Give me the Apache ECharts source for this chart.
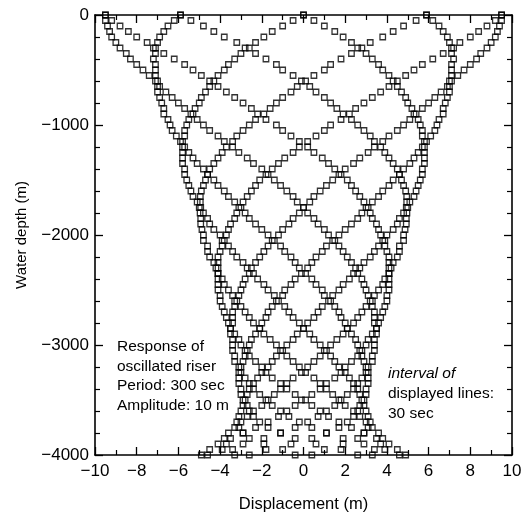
<!DOCTYPE html>
<html><head><meta charset="utf-8">
<script src="https://cdn.jsdelivr.net/npm/echarts@6/dist/echarts.min.js"></script>
<style>html,body{margin:0;padding:0;background:#fff}#c{width:525px;height:514px}</style>
</head><body><div id="c"></div>
<script>
const depths = [0,-50,-100,-150,-200,-250,-300,-350,-400,-450,-500,-550,-600,-650,-700,-750,-800,-850,-900,-950,
-1000,-1050,-1100,-1150,-1200,-1250,-1300,-1350,-1400,-1450,-1500,-1550,-1600,-1650,-1700,-1750,-1800,-1850,-1900,-1950,
-2000,-2050,-2100,-2150,-2200,-2250,-2300,-2350,-2400,-2450,-2500,-2550,-2600,-2650,-2700,-2750,-2800,-2850,-2900,-2950,
-3000,-3050,-3100,-3150,-3200,-3250,-3300,-3350,-3400,-3450,-3500,-3550,-3600,-3650,-3700,-3750,-3800,-3850,-3900,-3950,-4000];
const line0 = [0,-0.5,-1.0,-1.5,-1.9,-2.3,-2.6,-3.0,-3.3,-3.6,-3.8,-4.1,-4.3,-4.5,-4.7,-4.9,-5.0,-5.2,-5.3,-5.5,
-5.6,-5.7,-5.7,-5.8,-5.8,-5.8,-5.8,-5.8,-5.7,-5.7,-5.6,-5.5,-5.4,-5.3,-5.1,-5.0,-4.8,-4.6,-4.5,-4.3,
-4.0,-3.8,-3.6,-3.4,-3.2,-2.9,-2.7,-2.4,-2.2,-1.9,-1.7,-1.4,-1.2,-0.9,-0.7,-0.5,-0.2,0,0.3,0.5,
0.8,1.0,1.3,1.5,1.7,2.0,2.2,2.4,2.6,2.7,2.8,2.9,3.0,3.1,3.2,3.1,2.9,2.6,1.9,1.0,-0.4];
const line1 = [5.9,5.4,4.8,4.3,3.8,3.2,2.8,2.3,1.8,1.3,1.0,0.5,0.1,-0.3,-0.6,-1.0,-1.3,-1.6,-1.9,-2.3,
-2.6,-2.9,-3.2,-3.4,-3.7,-3.9,-4.1,-4.3,-4.5,-4.6,-4.7,-4.8,-4.9,-4.95,-4.95,-4.93,-4.96,-4.93,-4.93,-4.87,
-4.8,-4.8,-4.6,-4.6,-4.5,-4.3,-4.2,-4.1,-3.9,-3.8,-3.6,-3.4,-3.2,-3.0,-2.8,-2.6,-2.4,-2.1,-1.9,-1.6,
-1.3,-1.1,-0.8,-0.5,-0.2,0.1,0.5,0.8,1.1,1.4,1.7,2.0,2.4,2.7,3.0,3.3,3.6,3.8,3.7,3.4,2.6];
const line2 = [9.5,9.2,8.8,8.4,8.0,7.5,7.2,6.7,6.2,5.7,5.3,4.9,4.5,4.1,3.7,3.3,2.9,2.5,2.2,1.8,
1.3,1.0,0.6,0.2,-0.2,-0.5,-0.9,-1.2,-1.5,-1.8,-2.1,-2.3,-2.5,-2.7,-2.9,-3.0,-3.2,-3.3,-3.5,-3.6,
-3.7,-3.9,-3.9,-4.0,-4.1,-4.1,-4.1,-4.1,-4.1,-4.1,-4.1,-4.0,-4.0,-3.9,-3.8,-3.7,-3.6,-3.5,-3.3,-3.1,
-3.0,-2.8,-2.6,-2.3,-2.0,-1.8,-1.5,-1.1,-0.8,-0.4,-0.1,0.4,0.8,1.2,1.7,2.3,2.9,3.5,4.1,4.5,4.6];
const line3 = [9.5,9.5,9.4,9.3,9.2,9.0,8.8,8.5,8.3,8.0,7.7,7.4,7.1,6.9,6.6,6.3,6.0,5.7,5.4,5.1,
4.8,4.5,4.1,3.8,3.4,3.1,2.7,2.4,2.0,1.7,1.4,1.1,0.8,0.5,0.3,0.0,-0.2,-0.5,-0.7,-1.0,
-1.2,-1.5,-1.7,-1.9,-2.1,-2.3,-2.5,-2.6,-2.8,-2.9,-3.0,-3.1,-3.3,-3.3,-3.4,-3.4,-3.4,-3.5,-3.5,-3.4,
-3.4,-3.4,-3.3,-3.3,-3.1,-3.0,-2.8,-2.6,-2.4,-2.1,-1.8,-1.5,-1.1,-0.7,-0.2,0.4,1.1,1.9,2.9,3.9,4.9];
const line4 = [5.9,6.2,6.5,6.7,6.9,7.0,7.1,7.1,7.2,7.1,7.1,7.1,7.0,7.0,7.0,6.9,6.8,6.7,6.7,6.5,
6.4,6.3,6.1,5.9,5.7,5.5,5.3,5.1,4.8,4.6,4.3,4.1,3.8,3.6,3.3,3.1,2.8,2.6,2.3,2.0,
1.7,1.4,1.1,0.9,0.6,0.4,0.2,-0.1,-0.4,-0.6,-0.9,-1.0,-1.3,-1.5,-1.7,-1.8,-2.0,-2.1,-2.3,-2.5,
-2.6,-2.7,-2.8,-2.9,-3.0,-3.1,-3.1,-3.1,-3.0,-3.0,-2.9,-2.7,-2.6,-2.4,-2.1,-1.7,-1.1,-0.4,0.6,1.8,3.3];
const line5 = [0,0.5,1.0,1.5,1.9,2.3,2.6,3.0,3.3,3.6,3.8,4.1,4.3,4.5,4.7,4.9,5.0,5.2,5.3,5.5,
5.6,5.7,5.7,5.8,5.8,5.8,5.8,5.8,5.7,5.7,5.6,5.5,5.4,5.3,5.1,5.0,4.8,4.6,4.5,4.3,
4.0,3.8,3.6,3.4,3.2,2.9,2.7,2.4,2.2,1.9,1.7,1.4,1.2,0.9,0.7,0.5,0.2,0,-0.3,-0.5,
-0.8,-1.0,-1.3,-1.5,-1.7,-2.0,-2.2,-2.4,-2.6,-2.7,-2.8,-2.9,-3.0,-3.1,-3.2,-3.1,-2.9,-2.6,-1.9,-1.0,0.4];
const line6 = [-5.9,-5.4,-4.8,-4.3,-3.8,-3.2,-2.8,-2.3,-1.8,-1.3,-1.0,-0.5,-0.1,0.3,0.6,1.0,1.3,1.6,1.9,2.3,
2.6,2.9,3.2,3.4,3.7,3.9,4.1,4.3,4.5,4.6,4.7,4.8,4.9,4.95,4.95,4.93,4.96,4.93,4.93,4.87,
4.8,4.8,4.6,4.6,4.5,4.3,4.2,4.1,3.9,3.8,3.6,3.4,3.2,3.0,2.8,2.6,2.4,2.1,1.9,1.6,
1.3,1.1,0.8,0.5,0.2,-0.1,-0.5,-0.8,-1.1,-1.4,-1.7,-2.0,-2.4,-2.7,-3.0,-3.3,-3.6,-3.8,-3.7,-3.4,-2.6];
const line7 = [-9.5,-9.2,-8.8,-8.4,-8.0,-7.5,-7.2,-6.7,-6.2,-5.7,-5.3,-4.9,-4.5,-4.1,-3.7,-3.3,-2.9,-2.5,-2.2,-1.8,
-1.3,-1.0,-0.6,-0.2,0.2,0.5,0.9,1.2,1.5,1.8,2.1,2.3,2.5,2.7,2.9,3.0,3.2,3.3,3.5,3.6,
3.7,3.9,3.9,4.0,4.1,4.1,4.1,4.1,4.1,4.1,4.1,4.0,4.0,3.9,3.8,3.7,3.6,3.5,3.3,3.1,
3.0,2.8,2.6,2.3,2.0,1.8,1.5,1.1,0.8,0.4,0.1,-0.4,-0.8,-1.2,-1.7,-2.3,-2.9,-3.5,-4.1,-4.5,-4.6];
const line8 = [-9.5,-9.5,-9.4,-9.3,-9.2,-9.0,-8.8,-8.5,-8.3,-8.0,-7.7,-7.4,-7.1,-6.9,-6.6,-6.3,-6.0,-5.7,-5.4,-5.1,
-4.8,-4.5,-4.1,-3.8,-3.4,-3.1,-2.7,-2.4,-2.0,-1.7,-1.4,-1.1,-0.8,-0.5,-0.3,0.0,0.2,0.5,0.7,1.0,
1.2,1.5,1.7,1.9,2.1,2.3,2.5,2.6,2.8,2.9,3.0,3.1,3.3,3.3,3.4,3.4,3.4,3.5,3.5,3.4,
3.4,3.4,3.3,3.3,3.1,3.0,2.8,2.6,2.4,2.1,1.8,1.5,1.1,0.7,0.2,-0.4,-1.1,-1.9,-2.9,-3.9,-4.9];
const line9 = [-5.9,-6.2,-6.5,-6.7,-6.9,-7.0,-7.1,-7.1,-7.2,-7.1,-7.1,-7.1,-7.0,-7.0,-7.0,-6.9,-6.8,-6.7,-6.7,-6.5,
-6.4,-6.3,-6.1,-5.9,-5.7,-5.5,-5.3,-5.1,-4.8,-4.6,-4.3,-4.1,-3.8,-3.6,-3.3,-3.1,-2.8,-2.6,-2.3,-2.0,
-1.7,-1.4,-1.1,-0.9,-0.6,-0.4,-0.2,0.1,0.4,0.6,0.9,1.0,1.3,1.5,1.7,1.8,2.0,2.1,2.3,2.5,
2.6,2.7,2.8,2.9,3.0,3.1,3.1,3.1,3.0,3.0,2.9,2.7,2.6,2.4,2.1,1.7,1.1,0.4,-0.6,-1.8,-3.3];
const lines = [line0,line1,line2,line3,line4,line5,line6,line7,line8,line9];
const xTicks = [-10,-8,-6,-4,-2,0,2,4,6,8,10];
const yTicks = [0,-1000,-2000,-3000,-4000];

const font = '"Liberation Sans", Arial, sans-serif';
const minus = v => String(v).replace('-', '\u2212');
const series = lines.map(ln => ({
  type: 'scatter', data: ln.map((x, i) => [x, depths[i]]),
  symbol: 'rect', symbolSize: 5.5,
  itemStyle: {color: 'rgba(255,255,255,0)', borderColor: '#000', borderWidth: 1.3},
  animation: false, z: 3
}));
function ax(extra) {
  return Object.assign({
    axisLine: {onZero: false, lineStyle: {color: '#000', width: 1.6}},
    axisTick: {inside: true, length: 8, lineStyle: {color: '#000', width: 1.3}},
    minorTick: {show: true, splitNumber: 2, length: 5, lineStyle: {color: '#000', width: 1.2}},
    splitLine: {show: false}
  }, extra);
}
const yMinor = {show: true, splitNumber: 5, length: 5, lineStyle: {color: '#000', width: 1.2}};
const chart = echarts.init(document.getElementById('c'));
chart.setOption({
  animation: false,
  grid: {left: 95, right: 13, top: 15, bottom: 59, containLabel: false, outerBoundsMode: 'none'},
  xAxis: [
    ax({type: 'value', min: xTicks[0], max: xTicks[xTicks.length-1], interval: 2, position: 'bottom',
      name: 'Displacement (m)', nameLocation: 'middle', nameGap: 41,
      nameTextStyle: {fontFamily: font, fontSize: 16.5, color: '#000'},
      axisLabel: {fontFamily: font, fontSize: 17, color: '#000', margin: 8, formatter: minus}}),
    ax({type: 'value', min: -10, max: 10, interval: 2, position: 'top', axisLabel: {show: false}})
  ],
  yAxis: [
    ax({type: 'value', min: yTicks[yTicks.length-1], max: yTicks[0], interval: 1000, position: 'left',
      name: 'Water depth (m)', nameLocation: 'middle', nameGap: 66, nameRotate: 90,
      nameTextStyle: {fontFamily: font, fontSize: 15, color: '#000'},
      minorTick: yMinor,
      axisLabel: {fontFamily: font, fontSize: 17, color: '#000', margin: 6, formatter: minus}}),
    ax({type: 'value', min: -4000, max: 0, interval: 1000, position: 'right', axisLabel: {show: false}, minorTick: yMinor})
  ],
  series: series,
  graphic: [
    {type: 'text', left: 117, top: 337, style: {text: 'Response of\noscillated riser\nPeriod: 300 sec\nAmplitude: 10 m', font: '15.5px ' + font, lineHeight: 19.5, fill: '#000'}},
    {type: 'text', left: 388, top: 364, style: {text: 'interval of', font: 'italic 15.5px ' + font, lineHeight: 19.5, fill: '#000'}},
    {type: 'text', left: 388, top: 384, style: {text: 'displayed lines:\n30 sec', font: '15.5px ' + font, lineHeight: 19.5, fill: '#000'}}
  ]
});
</script></body></html>
